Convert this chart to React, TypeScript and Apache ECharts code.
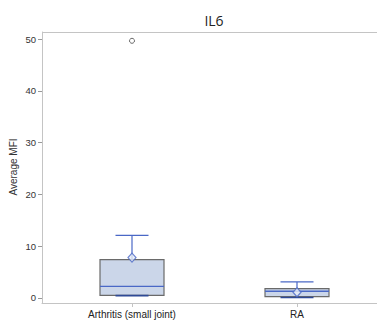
import React, { useEffect, useRef } from "react";
import * as echarts from "echarts";

const categories = ["Arthritis (small joint)", "RA"];
const lowWhisker = [0.45, 0.1];
const q1 = [0.5, 0.25];
const median = [2.25, 1.3];
const q3 = [7.4, 1.8];
const highWhisker = [12.1, 3.1];
const means = [7.8, 1.1];
const outliers: [number, number][] = [[1, 49.7]];
const yTicks = [0, 10, 20, 30, 40, 50];

const BLUE = "#4a68c6";
const FILL = "#cbd6e9";
const BORDER = "#6a6a6a";
const AXIS = "#c4c4c4";

export default function App() {
  const ref = useRef<HTMLDivElement>(null);
  useEffect(() => {
    if (!ref.current) return;
    const chart = echarts.init(ref.current, null, { renderer: "svg" });
    const boxData = categories.map((_, i) => [
      i + 1,
      lowWhisker[i],
      q1[i],
      median[i],
      q3[i],
      highWhisker[i],
    ]);
    chart.setOption({
      animation: false,
      backgroundColor: "#ffffff",
      grid: { left: 42, right: 0, top: 32, bottom: 17, containLabel: false, outerBoundsMode: "none" },
      xAxis: {
        type: "value",
        min: 1 - 90 / 165,
        max: 2 + 80 / 165,
        splitLine: { show: false },
        axisLine: { show: true, onZero: false, lineStyle: { color: AXIS } },
        axisTick: {
          show: true,
          length: 4,
          lineStyle: { color: AXIS },
          customValues: categories.map((_, i) => i + 1),
        },
        axisLabel: {
          customValues: categories.map((_, i) => i + 1),
          formatter: (v: number) => categories[Math.round(v) - 1] ?? "",
          fontFamily: "Liberation Sans",
          fontSize: 10,
          color: "#222",
          margin: 6,
        },
      },
      yAxis: {
        type: "value",
        min: -0.97,
        max: 51.4,
        splitLine: { show: false },
        axisLine: { show: true, onZero: false, lineStyle: { color: AXIS } },
        axisTick: {
          show: true,
          length: 4,
          lineStyle: { color: "#999" },
          customValues: yTicks,
        },
        axisLabel: {
          customValues: yTicks,
          fontFamily: "Liberation Sans",
          fontSize: 9.5,
          color: "#333",
          margin: 6,
        },
      },
      graphic: [
        {
          type: "text",
          x: 214,
          y: 20,
          style: {
            text: "IL6",
            fontFamily: "Open Sans",
            fontSize: 14,
            fill: "#222",
            textAlign: "center",
            textVerticalAlign: "middle",
          },
        },
        {
          type: "text",
          x: 13,
          y: 167,
          rotation: Math.PI / 2,
          style: {
            text: "Average MFI",
            fontFamily: "Liberation Sans",
            fontSize: 10,
            fill: "#333",
            textAlign: "center",
            textVerticalAlign: "middle",
          },
        },
        {
          type: "line",
          shape: { x1: 42, y1: 32.5, x2: 377, y2: 32.5 },
          style: { stroke: AXIS, lineWidth: 1 },
        },
      ],
      series: [
        {
          type: "custom",
          data: boxData,
          encode: { x: 0, y: [1, 2, 3, 4, 5] },
          renderItem: (params: any, api: any) => {
            const x = api.value(0);
            const pLo = api.coord([x, api.value(1)]);
            const pQ1 = api.coord([x, api.value(2)]);
            const pMed = api.coord([x, api.value(3)]);
            const pQ3 = api.coord([x, api.value(4)]);
            const pHi = api.coord([x, api.value(5)]);
            const cx = pMed[0];
            const hb = 32;
            const hc = 16.5;
            const lineStyle = { stroke: BLUE, lineWidth: 1.2 };
            return {
              type: "group",
              children: [
                {
                  type: "rect",
                  shape: { x: cx - hb, y: pQ3[1], width: hb * 2, height: pQ1[1] - pQ3[1] },
                  style: { fill: FILL, stroke: BORDER, lineWidth: 1.2 },
                },
                { type: "line", shape: { x1: cx, y1: pQ3[1], x2: cx, y2: pHi[1] }, style: lineStyle },
                { type: "line", shape: { x1: cx - hc, y1: pHi[1], x2: cx + hc, y2: pHi[1] }, style: lineStyle },
                { type: "line", shape: { x1: cx, y1: pQ1[1], x2: cx, y2: pLo[1] }, style: lineStyle },
                {
                  type: "line",
                  shape: { x1: cx - hc, y1: pLo[1], x2: cx + hc, y2: pLo[1] },
                  style: { stroke: "#2f4a96", lineWidth: 1.6 },
                },
                {
                  type: "line",
                  shape: { x1: cx - hb, y1: pMed[1], x2: cx + hb, y2: pMed[1] },
                  style: { stroke: BLUE, lineWidth: 1.4 },
                },
              ],
            };
          },
        },
        {
          type: "scatter",
          data: means.map((m, i) => [i + 1, m]),
          symbol: "diamond",
          symbolSize: [8, 9],
          itemStyle: { color: "#e6ecf6", borderColor: BLUE, borderWidth: 1.2 },
          z: 5,
        },
        {
          type: "scatter",
          data: outliers,
          symbol: "circle",
          symbolSize: 5,
          itemStyle: { color: "#ffffff", borderColor: "#444", borderWidth: 1 },
          z: 5,
        },
      ],
    });
    return () => chart.dispose();
  }, []);
  return (
    <div
      ref={ref}
      style={{ position: "fixed", left: 0, top: 0, width: 377, height: 320, background: "#fff" }}
    />
  );
}
